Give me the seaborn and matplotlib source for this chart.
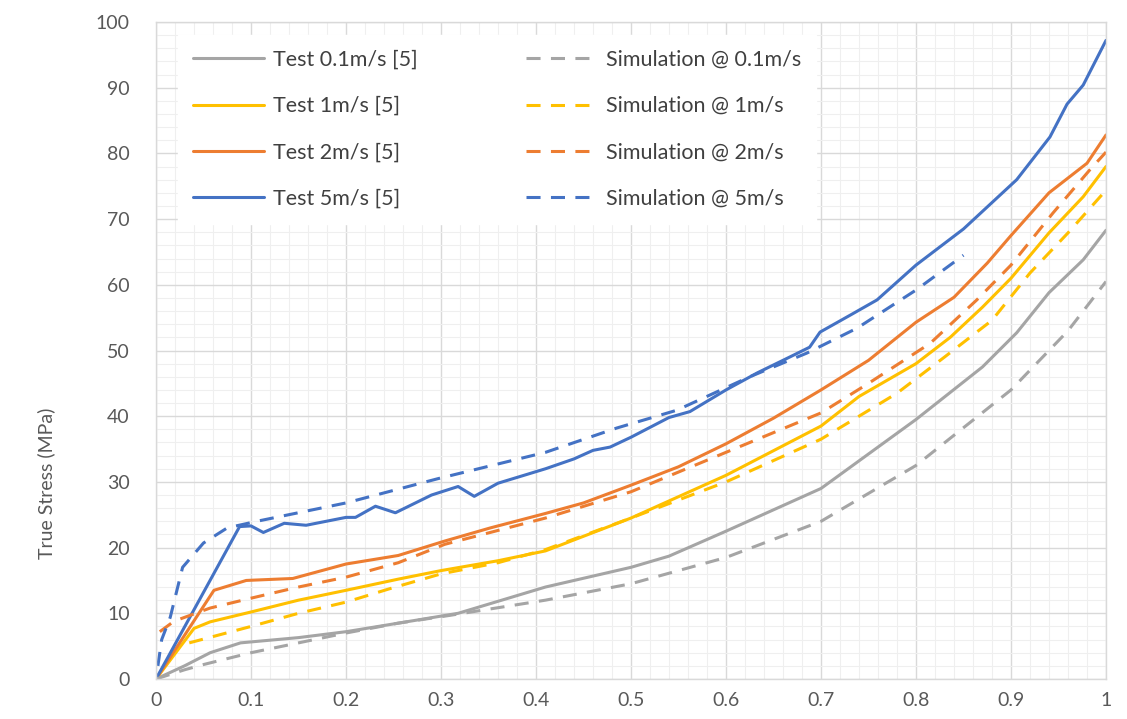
import numpy as np
import pandas as pd
import matplotlib
matplotlib.use("Agg")
import matplotlib.pyplot as plt
from matplotlib.ticker import MultipleLocator, FuncFormatter
import seaborn as sns

# ---------------- data ----------------
t01_x = [0, 0.03, 0.057, 0.089, 0.15, 0.2, 0.255, 0.318, 0.41, 0.5, 0.54, 0.6, 0.7, 0.8, 0.87, 0.906, 0.94, 0.976, 1.0]
t01_y = [0, 2, 4, 5.5, 6.3, 7.2, 8.5, 10, 14, 17, 18.7, 22.5, 29, 39.5, 47.5, 52.7, 58.8, 63.8, 68.3]

s01_x = [0, 0.03, 0.05, 0.1, 0.15, 0.2, 0.255, 0.31, 0.41, 0.5, 0.6, 0.7, 0.8, 0.9, 0.96, 1.0]
s01_y = [0, 1.4, 2.2, 4.0, 5.5, 7, 8.5, 9.7, 12, 14.5, 18.5, 24, 32.5, 44, 53, 60.5]

t1_x = [0, 0.04, 0.057, 0.1, 0.15, 0.2, 0.255, 0.3, 0.36, 0.41, 0.5, 0.6, 0.7, 0.74, 0.8, 0.836, 0.87, 0.9, 0.94, 0.976, 1.0]
t1_y = [0, 7.7, 8.7, 10.2, 12, 13.5, 15.2, 16.5, 18, 19.5, 24.5, 31, 38.5, 43, 48, 52, 56.6, 61, 67.9, 73.4, 78]

s1_x = [0.035, 0.1, 0.15, 0.2, 0.245, 0.3, 0.36, 0.41, 0.5, 0.6, 0.7, 0.78, 0.83, 0.88, 0.92, 0.96, 1.0]
s1_y = [5.5, 8, 10, 11.7, 13.7, 16, 17.7, 19.7, 24.5, 30, 36.5, 43.5, 49, 54.6, 61.8, 67.9, 74.4]

t2_x = [0, 0.061, 0.095, 0.144, 0.2, 0.255, 0.304, 0.352, 0.41, 0.45, 0.5, 0.55, 0.6, 0.65, 0.7, 0.75, 0.8, 0.84, 0.875, 0.9, 0.94, 0.98, 1.0]
t2_y = [0, 13.5, 15, 15.3, 17.5, 18.8, 21, 23, 25.2, 26.8, 29.5, 32.3, 35.8, 39.7, 44, 48.5, 54.3, 58.1, 63.3, 67.5, 74, 78.5, 82.8]

s2_x = [0.004, 0.019, 0.057, 0.1, 0.15, 0.2, 0.255, 0.304, 0.41, 0.5, 0.6, 0.7, 0.75, 0.815, 0.864, 0.9, 0.944, 0.983, 1.0]
s2_y = [7.2, 8.8, 10.8, 12.3, 14, 15.5, 17.7, 20.5, 24.5, 28.5, 34.5, 40.5, 45, 51.1, 57.7, 63, 70.9, 77.5, 80.2]

t5_x = [0, 0.088, 0.1, 0.113, 0.135, 0.158, 0.2, 0.21, 0.231, 0.252, 0.29, 0.318, 0.335, 0.36, 0.41, 0.44, 0.46, 0.478, 0.5,
        0.54, 0.562, 0.6, 0.633, 0.667, 0.688, 0.699, 0.731, 0.759, 0.8, 0.85, 0.906, 0.941, 0.959, 0.976, 1.0]
t5_y = [0, 23.2, 23.3, 22.3, 23.7, 23.4, 24.6, 24.6, 26.3, 25.3, 28, 29.3, 27.8, 29.8, 32, 33.5, 34.8, 35.3, 36.8,
        39.8, 40.7, 44, 46.6, 49, 50.5, 52.8, 55.4, 57.7, 63, 68.5, 76, 82.5, 87.5, 90.4, 97.2]

s5_x = [0.002, 0.006, 0.015, 0.028, 0.05, 0.075, 0.106, 0.2, 0.297, 0.41, 0.485, 0.548, 0.625, 0.685, 0.738, 0.8, 0.85]
s5_y = [2, 6, 9.4, 17, 20.7, 23, 24, 26.8, 30.5, 34.5, 38.2, 40.9, 46, 49.6, 53.4, 59.2, 64.5]

labels = ["Test 0.1m/s [5]", "Test 1m/s [5]", "Test 2m/s [5]", "Test 5m/s [5]",
          "Simulation @ 0.1m/s", "Simulation @ 1m/s", "Simulation @ 2m/s", "Simulation @ 5m/s"]
xs = [t01_x, t1_x, t2_x, t5_x, s01_x, s1_x, s2_x, s5_x]
ys = [t01_y, t1_y, t2_y, t5_y, s01_y, s1_y, s2_y, s5_y]

x_ticks = [0, 0.1, 0.2, 0.3, 0.4, 0.5, 0.6, 0.7, 0.8, 0.9, 1.0]
y_ticks = [0, 10, 20, 30, 40, 50, 60, 70, 80, 90, 100]
y_label = "True Stress (MPa)"

# ---------------- style ----------------
sns.set_theme(style="white")
plt.rcParams["font.family"] = ["Lato", "DejaVu Sans"]

gray, yellow, orange, blue = "#A5A5A5", "#FFC000", "#ED7D31", "#4472C4"
palette = dict(zip(labels, [gray, yellow, orange, blue, gray, yellow, orange, blue]))
dash = (4.6, 3.4)
dashes = dict(zip(labels, ["", "", "", "", dash, dash, dash, dash]))

frames = []
for lab, x, y in zip(labels, xs, ys):
    frames.append(pd.DataFrame({"strain": x, "stress": y, "series": lab}))
df = pd.concat(frames, ignore_index=True)

fig = plt.figure(figsize=(11.27, 7.19), dpi=100)
ax = fig.add_axes([156 / 1127, 1 - 679 / 719, 950 / 1127, 657 / 719])

sns.lineplot(data=df, x="strain", y="stress", hue="series", style="series",
             hue_order=labels, style_order=labels, palette=palette, dashes=dashes,
             linewidth=2.2, estimator=None, sort=True, ax=ax)

ax.set_xlim(0, 1)
ax.set_ylim(0, 100)
ax.set_xticks(x_ticks)
ax.set_yticks(y_ticks)
ax.xaxis.set_major_formatter(FuncFormatter(lambda v, p: ("%g" % round(v, 2))))
ax.xaxis.set_minor_locator(MultipleLocator(0.02))
ax.yaxis.set_minor_locator(MultipleLocator(2))
ax.grid(which="major", color="#D9D9D9", linewidth=1.0)
ax.grid(which="minor", color="#EFEFEF", linewidth=0.8)
ax.set_axisbelow(True)
for sp in ax.spines.values():
    sp.set_color("#D9D9D9")
    sp.set_linewidth(1.0)

ax.tick_params(axis="both", which="major", labelsize=14, labelcolor="#595959",
               color="#D9D9D9", width=1.0, length=5, direction="out")
ax.tick_params(axis="y", pad=14)
ax.tick_params(axis="x", pad=4)
ax.tick_params(which="minor", length=0)

ax.set_xlabel("")
ax.set_ylabel(y_label, fontsize=14, color="#595959")
ax.yaxis.set_label_coords(-0.106, 0.298)

handles, labs = ax.get_legend_handles_labels()
leg = ax.legend(handles, labs, ncol=2, loc="upper left",
                bbox_to_anchor=(0.012, 0.997), frameon=True, fancybox=False,
                facecolor="white", edgecolor="white", framealpha=1.0,
                fontsize=15.5, handlelength=3.3, handletextpad=0.42,
                labelspacing=1.22, columnspacing=5.0, borderpad=0.7)
for h in leg.get_lines():
    h.set_linewidth(2.2)
for t in leg.get_texts():
    t.set_color("#404040")

fig.savefig("out.png", dpi=100)
